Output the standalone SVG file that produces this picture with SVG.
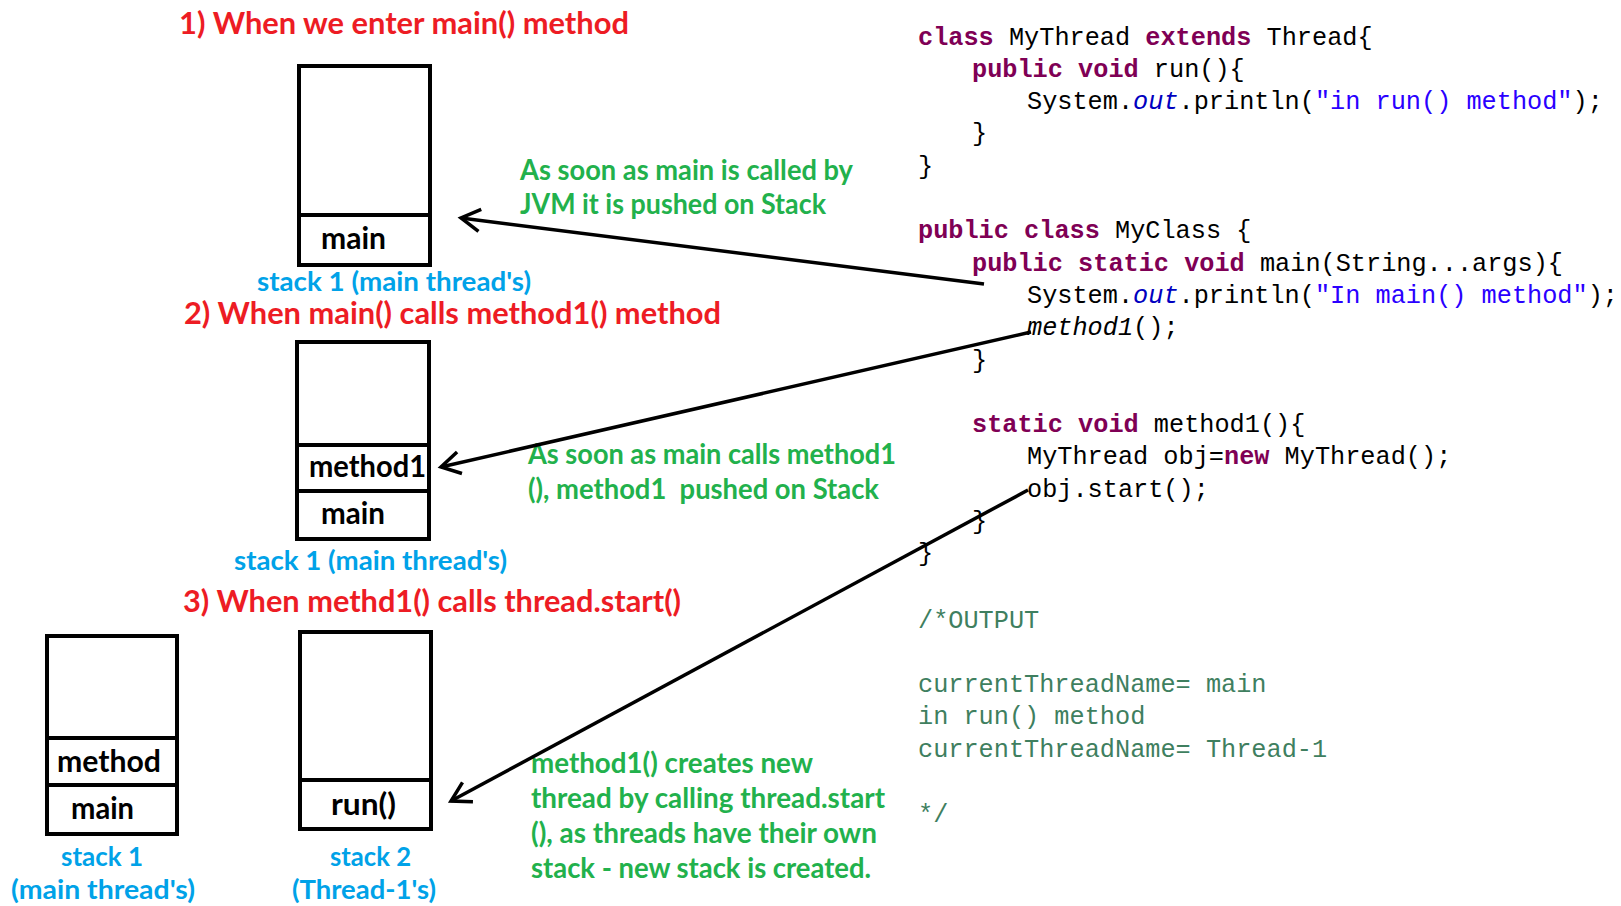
<svg xmlns="http://www.w3.org/2000/svg" width="1621" height="906" viewBox="0 0 1621 906">
<style>
.sans{font-family:Lato,'Liberation Sans',sans-serif;font-weight:bold;white-space:pre}
.title{fill:#ED1C24;font-size:30px}
.box{fill:#000;font-size:31px}
.blue{fill:#00A2E8;font-size:27.5px}
.green{fill:#22B14C;font-size:28.5px}
.frame{fill:#fff;stroke:#000;stroke-width:4}
.div{stroke:#000;stroke-width:4}
.code{font-family:'Liberation Mono',monospace;font-size:25.25px;fill:#000;white-space:pre}
.kw{fill:#7F0055;font-weight:bold}
.str{fill:#2A00FF}
.fld{fill:#0000C0;font-style:italic}
.it{font-style:italic}
.cmt{fill:#3F7F5F}
.conn{fill:none;stroke:#000;stroke-width:3.5;marker-end:url(#arr)}
</style>
<defs>
<marker id="arr" markerUnits="userSpaceOnUse" markerWidth="40" markerHeight="40" viewBox="-25 -20 40 40" refX="0" refY="0" orient="auto" overflow="visible">
<path d="M-19,-11 L0,0 L-19,11" fill="none" stroke="#000" stroke-width="3.5" stroke-linejoin="miter"/>
</marker>
</defs>
<rect width="1621" height="906" fill="#fff"/>

<g id="title1"><text class="sans title" x="179" y="34" textLength="450" lengthAdjust="spacingAndGlyphs">1) When we enter main() method</text></g>
<g id="title2"><text class="sans title" x="184" y="324" textLength="537" lengthAdjust="spacingAndGlyphs">2) When main() calls method1() method</text></g>
<g id="title3"><text class="sans title" x="183" y="612" textLength="498" lengthAdjust="spacingAndGlyphs">3) When methd1() calls thread.start()</text></g>

<g id="stack1-step1">
<rect class="frame" x="299" y="66" width="131" height="199"/>
<line class="div" x1="299" y1="215" x2="430" y2="215"/>
<text class="sans box" x="321" y="248.5" textLength="65" lengthAdjust="spacingAndGlyphs">main</text>
<text class="sans blue" x="257" y="291" textLength="274" lengthAdjust="spacingAndGlyphs">stack 1 (main thread's)</text>
</g>

<g id="stack1-step2">
<rect class="frame" x="297" y="342" width="132" height="197"/>
<line class="div" x1="297" y1="445" x2="429" y2="445"/>
<line class="div" x1="297" y1="491" x2="429" y2="491"/>
<text class="sans box" x="309" y="476.5" textLength="117" lengthAdjust="spacingAndGlyphs">method1</text>
<text class="sans box" x="321" y="523.5" textLength="64" lengthAdjust="spacingAndGlyphs">main</text>
<text class="sans blue" x="234" y="569.5" textLength="273" lengthAdjust="spacingAndGlyphs">stack 1 (main thread's)</text>
</g>

<g id="stack1-step3">
<rect class="frame" x="47" y="636" width="130" height="198"/>
<line class="div" x1="47" y1="738" x2="177" y2="738"/>
<line class="div" x1="47" y1="785" x2="177" y2="785"/>
<text class="sans box" x="57" y="771.5" textLength="104" lengthAdjust="spacingAndGlyphs">method</text>
<text class="sans box" x="71" y="818.5" textLength="63" lengthAdjust="spacingAndGlyphs">main</text>
<text class="sans blue" x="61" y="866" textLength="82" lengthAdjust="spacingAndGlyphs">stack 1</text>
<text class="sans blue" x="11" y="899" textLength="184" lengthAdjust="spacingAndGlyphs">(main thread's)</text>
</g>

<g id="stack2-step3">
<rect class="frame" x="300" y="632" width="131" height="197"/>
<line class="div" x1="300" y1="780" x2="431" y2="780"/>
<text class="sans box" x="331" y="814.5" textLength="65" lengthAdjust="spacingAndGlyphs">run()</text>
<text class="sans blue" x="330" y="866" textLength="81" lengthAdjust="spacingAndGlyphs">stack 2</text>
<text class="sans blue" x="292" y="899" textLength="144" lengthAdjust="spacingAndGlyphs">(Thread-1's)</text>
</g>

<g id="note1">
<text class="sans green" x="520" y="180" textLength="333" lengthAdjust="spacingAndGlyphs">As soon as main is called by</text>
<text class="sans green" x="520" y="214" textLength="306" lengthAdjust="spacingAndGlyphs">JVM it is pushed on Stack</text>
</g>
<g id="note2">
<text class="sans green" x="528" y="464" textLength="368" lengthAdjust="spacingAndGlyphs">As soon as main calls method1</text>
<text class="sans green" x="528" y="498.5" textLength="351" lengthAdjust="spacingAndGlyphs">(), method1  pushed on Stack</text>
</g>
<g id="note3">
<text class="sans green" x="531" y="773" textLength="282" lengthAdjust="spacingAndGlyphs">method1() creates new</text>
<text class="sans green" x="531" y="808" textLength="354" lengthAdjust="spacingAndGlyphs">thread by calling thread.start</text>
<text class="sans green" x="531" y="843" textLength="346" lengthAdjust="spacingAndGlyphs">(), as threads have their own</text>
<text class="sans green" x="531" y="878" textLength="340" lengthAdjust="spacingAndGlyphs">stack - new stack is created.</text>
</g>

<g id="code">
<text class="code" x="918" y="44.5"><tspan class="kw">class</tspan> MyThread <tspan class="kw">extends</tspan> Thread{</text>
<text class="code" x="972" y="76.8"><tspan class="kw">public</tspan> <tspan class="kw">void</tspan> run(){</text>
<text class="code" x="1027" y="109.1">System.<tspan class="fld">out</tspan>.println(<tspan class="str">"in run() method"</tspan>);</text>
<text class="code" x="972" y="141.4">}</text>
<text class="code" x="918" y="173.7">}</text>
<text class="code" x="918" y="238.3"><tspan class="kw">public</tspan> <tspan class="kw">class</tspan> MyClass {</text>
<text class="code" x="972" y="270.6"><tspan class="kw">public</tspan> <tspan class="kw">static</tspan> <tspan class="kw">void</tspan> main(String...args){</text>
<text class="code" x="1027" y="302.9">System.<tspan class="fld">out</tspan>.println(<tspan class="str">"In main() method"</tspan>);</text>
<text class="code" x="1027" y="335.2"><tspan class="it">method1</tspan>();</text>
<text class="code" x="972" y="367.5">}</text>
<text class="code" x="972" y="432.1"><tspan class="kw">static</tspan> <tspan class="kw">void</tspan> method1(){</text>
<text class="code" x="1027" y="464.4">MyThread obj=<tspan class="kw">new</tspan> MyThread();</text>
<text class="code" x="1027" y="496.7">obj.start();</text>
<text class="code" x="972" y="529">}</text>
<text class="code" x="918" y="561.3">}</text>
<text class="code cmt" x="918" y="627.5">/*OUTPUT</text>
<text class="code cmt" x="918" y="692">currentThreadName= main</text>
<text class="code cmt" x="918" y="724.3">in run() method</text>
<text class="code cmt" x="918" y="756.6">currentThreadName= Thread-1</text>
<text class="code cmt" x="918" y="822">*/</text>
</g>

<g id="connectors">
<path class="conn" d="M984,284 L461,218"/>
<path class="conn" d="M1031,332 L441,467"/>
<path class="conn" d="M1028,490 L451,801"/>
</g>
</svg>
